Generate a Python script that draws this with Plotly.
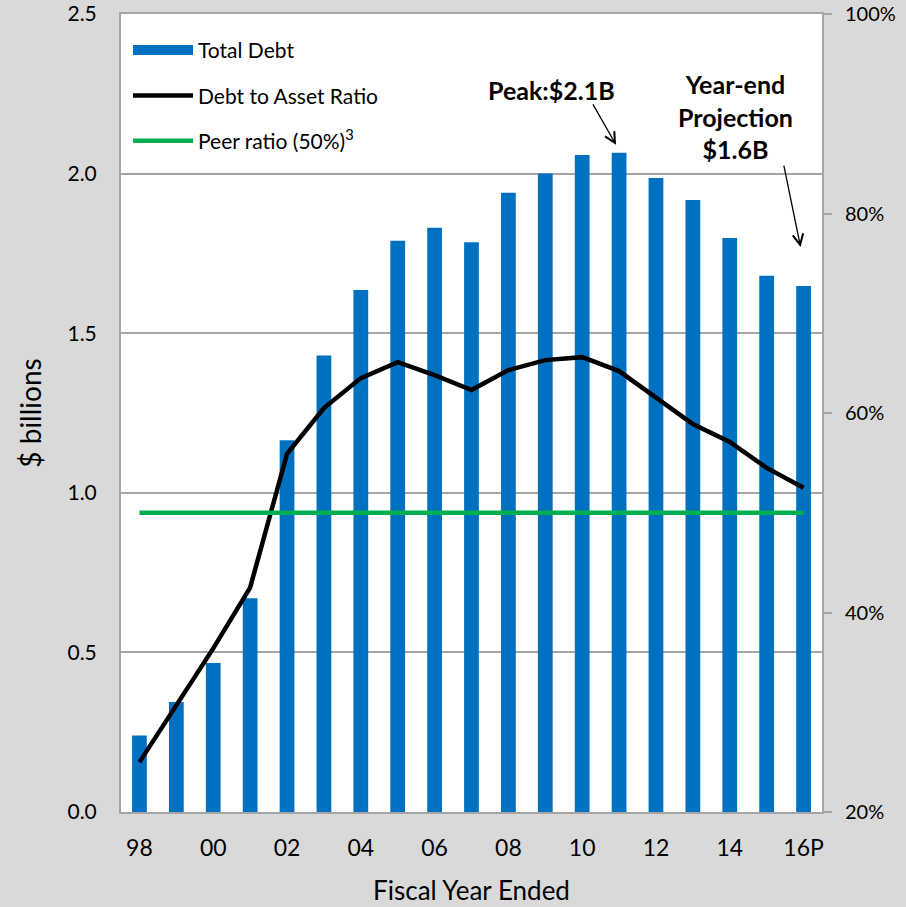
import plotly.graph_objects as go

years = ["98", "99", "00", "01", "02", "03", "04", "05", "06", "07",
         "08", "09", "10", "11", "12", "13", "14", "15", "16P"]
total_debt = [0.24, 0.345, 0.467, 0.67, 1.165, 1.43, 1.635, 1.79, 1.83, 1.785,
              1.94, 2.0, 2.058, 2.065, 1.986, 1.917, 1.798, 1.68, 1.648]
debt_asset_ratio = [0.250, 0.307, 0.364, 0.425, 0.559, 0.605, 0.635, 0.651, 0.638, 0.623,
                    0.643, 0.653, 0.656, 0.642, 0.615, 0.589, 0.571, 0.545, 0.525]
peer_ratio = [0.50] * len(years)
tick_years = ["98", "00", "02", "04", "06", "08", "10", "12", "14", "16P"]

FONT = "Lato, Calibri, Carlito, sans-serif"
GRID = "#a6a6a6"
BLUE = "#0070C0"

fig = go.Figure()
fig.add_trace(go.Bar(x=years, y=total_debt, name="Total Debt", showlegend=False,
                     marker=dict(color=BLUE, line=dict(width=0)), yaxis="y"))
# legend entry for bars drawn as a wide block
fig.add_trace(go.Scatter(x=[None], y=[None], name="Total Debt", mode="lines",
                         line=dict(color=BLUE, width=14), legendgroup="a"))
fig.add_trace(go.Scatter(x=years, y=debt_asset_ratio, name="Debt to Asset Ratio",
                         mode="lines", line=dict(color="black", width=4.5), yaxis="y2",
                         legendgroup="b"))
fig.add_trace(go.Scatter(x=years, y=peer_ratio, name="Peer ratio (50%)<sup>3</sup>",
                         mode="lines", line=dict(color="#00B050", width=4.5), yaxis="y2",
                         legendgroup="c"))

fig.update_layout(
    width=906, height=907,
    margin=dict(l=121, r=84, t=14, b=95, autoexpand=False),
    paper_bgcolor="#d9d9d9", plot_bgcolor="white",
    font=dict(family=FONT, size=21, color="black"),
    bargap=0.6,
    showlegend=True,
    legend=dict(x=0.01, y=0.98, xanchor="left", yanchor="top",
                bgcolor="rgba(255,255,255,0)", font=dict(size=21),
                tracegroupgap=15, itemwidth=60, traceorder="grouped"),
    xaxis=dict(type="category", categoryorder="array", categoryarray=years,
               tickmode="array", tickvals=tick_years, ticktext=tick_years,
               tickfont=dict(size=23),
               showline=True, linecolor=GRID, linewidth=2, mirror=True,
               ticks="", ticklabelstandoff=14, showgrid=False,
               title=dict(text="Fiscal Year Ended", font=dict(size=26), standoff=22)),
    yaxis=dict(range=[0, 2.5], tickvals=[0, 0.5, 1.0, 1.5, 2.0, 2.5],
               ticktext=["0.0", "0.5", "1.0", "1.5", "2.0", "2.5"],
               tickfont=dict(size=21),
               showgrid=True, gridcolor=GRID, gridwidth=1.5,
               showline=True, linecolor=GRID, linewidth=2, ticks="",
               ticklabelstandoff=18, zeroline=False,
               title=dict(text="$ billions", font=dict(size=28), standoff=18)),
    yaxis2=dict(range=[0.2, 1.0], overlaying="y", side="right",
                tickvals=[0.2, 0.4, 0.6, 0.8, 1.0], tickformat=".0%",
                tickfont=dict(size=20),
                showgrid=False, showline=True, linecolor=GRID, linewidth=2,
                ticks="outside", ticklen=8, tickcolor=GRID, tickwidth=2,
                ticklabelstandoff=9, zeroline=False),
)

fig.add_annotation(xref="paper", yref="paper", x=0.614, y=0.9047,
                   xanchor="center", yanchor="middle",
                   text="<b>Peak:$2.1B</b>", showarrow=False,
                   font=dict(size=25, family=FONT))
fig.add_annotation(x=years.index("11"), y=2.09, xref="x", yref="y", text="", xshift=-3,
                   showarrow=True, arrowhead=5, arrowsize=1.6, arrowwidth=1.3,
                   arrowcolor="black", ax=-24, ay=-42)
fig.add_annotation(xref="paper", yref="paper", x=0.877, y=0.871,
                   xanchor="center", yanchor="middle",
                   text="<b>Year-end<br>Projection<br>$1.6B</b>", showarrow=False,
                   font=dict(size=25, family=FONT))
fig.add_annotation(x=years.index("16P"), y=1.77, xref="x", yref="y", text="", xshift=-3,
                   showarrow=True, arrowhead=5, arrowsize=1.6, arrowwidth=1.3,
                   arrowcolor="black", ax=-17, ay=-83)

fig.write_html("out.html", config={"displayModeBar": False},
               post_script="document.body.style.margin='0';")
